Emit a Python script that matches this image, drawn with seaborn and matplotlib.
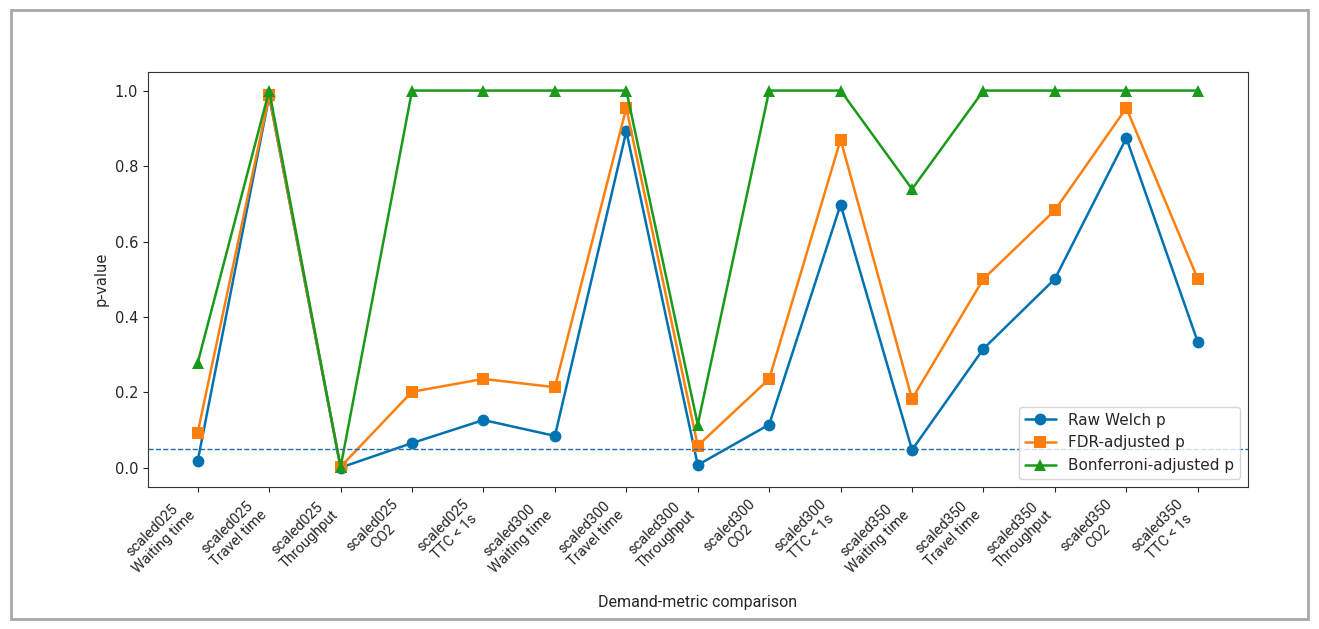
import matplotlib
matplotlib.use("Agg")
import matplotlib.pyplot as plt
import seaborn as sns
import pandas as pd
from matplotlib.patches import Rectangle

# comparisons on the x axis
scenarios = ["scaled025"] * 5 + ["scaled300"] * 5 + ["scaled350"] * 5
metrics = ["Waiting time", "Travel time", "Throughput", "CO2", "TTC < 1s"] * 3
labels = [s + "\n" + m for s, m in zip(scenarios, metrics)]

raw_p = [0.019, 0.985, 0.001, 0.066, 0.127, 0.085, 0.892, 0.008,
         0.115, 0.698, 0.048, 0.316, 0.501, 0.874, 0.334]
fdr_p = [0.094, 0.987, 0.003, 0.202, 0.236, 0.214, 0.954, 0.059,
         0.236, 0.870, 0.183, 0.501, 0.683, 0.954, 0.501]
bonf_p = [0.279, 1.0, 0.002, 1.0, 1.0, 1.0, 1.0, 0.115,
          1.0, 1.0, 0.739, 1.0, 1.0, 1.0, 1.0]
alpha = 0.05

sns.set_style("ticks")
plt.rcParams['font.family'] = ['DejaVu Sans']

fig = plt.figure(figsize=(13.19, 6.29), dpi=100)
ax = fig.add_axes([0.112, 0.226, 0.834, 0.66])

x = list(range(len(labels)))
series = [
    (raw_p, "Raw Welch p", "#0072B2", "o"),
    (fdr_p, "FDR-adjusted p", "#FF7F0E", "s"),
    (bonf_p, "Bonferroni-adjusted p", "#1A9A1A", "^"),
]
for vals, name, col, mk in series:
    df = pd.DataFrame({"x": x, "p": vals})
    sns.lineplot(data=df, x="x", y="p", ax=ax, color=col, marker=mk,
                 markersize=8.5, markeredgewidth=0, linewidth=1.8, label=name)

ax.axhline(alpha, color="#1f6fa8", linestyle="--", linewidth=1)

ax.set_xticks(x)
ax.set_xticklabels(labels, rotation=45, ha="right", rotation_mode="default",
                   family="Roboto", fontsize=10.5, multialignment="center")
ax.set_xlim(-0.7, len(labels) - 1 + 0.7)
ax.set_ylim(-0.05, 1.05)
ax.set_yticks([0.0, 0.2, 0.4, 0.6, 0.8, 1.0])
ax.tick_params(labelsize=10.5)
ax.set_xlabel("Demand-metric comparison", family="Roboto", fontsize=11.5, labelpad=14)
ax.set_ylabel("p-value", fontsize=10.5)
for sp in ax.spines.values():
    sp.set_color("#333333")

ax.legend(loc="lower right", fontsize=11, frameon=True)

# grey frame around the whole figure
fig.patches.append(Rectangle((0.008, 0.016), 0.984, 0.968, transform=fig.transFigure,
                             fill=False, edgecolor="#a8a8a8", linewidth=2))

fig.savefig("out.png", dpi=100)
